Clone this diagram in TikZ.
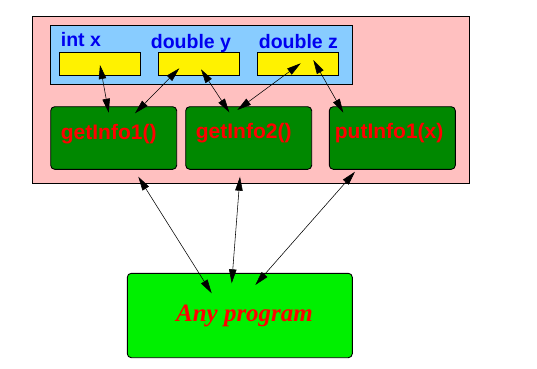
\documentclass[tikz,border=0pt]{standalone}
\usepackage{fontspec}
\setmainfont{Liberation Sans}
\newfontfamily\anyfont{Liberation Serif}
\usetikzlibrary{arrows.meta}
\definecolor{pinkbg}{RGB}{255,192,192}
\definecolor{bluebg}{RGB}{136,204,255}
\definecolor{darkgr}{RGB}{0,136,0}
\definecolor{brightgr}{RGB}{0,240,0}
\definecolor{labblue}{RGB}{0,0,240}
\begin{document}
\begin{tikzpicture}[x=1pt,y=-1pt,
  box/.style={draw=black,line width=0.9pt,anchor=north west,inner sep=0pt,outer sep=0pt},
  varbox/.style={box,fill=yellow,minimum width=81pt,minimum height=23pt},
  funcbox/.style={box,fill=darkgr,rounded corners=4pt,minimum width=126pt,minimum height=62.6pt},
  varlab/.style={anchor=base west,inner sep=0pt,text=labblue,font=\fontsize{19.5}{19.5}\selectfont\bfseries},
  funclab/.style={anchor=base west,inner sep=0pt,text=red,font=\fontsize{21}{21}\selectfont\bfseries},
  link/.style={line width=0.55pt,{Triangle[length=14pt,width=7.5pt]}-{Triangle[length=14pt,width=7.5pt]}}
]
\useasboundingbox (0,0) rectangle (537,368);
% outer class box
\node[box,fill=pinkbg,minimum width=436.3pt,minimum height=167pt] (cls) at (32.7,16) {};
% data box
\node[box,fill=bluebg,minimum width=302.7pt,minimum height=59pt] (data) at (50,25) {};
\node[varlab] (lx) at (60.7,46.7) {int x};
\node[varlab] (ly) at (150.7,48.5) {double y};
\node[varlab] (lz) at (258.7,48.5) {double z};
\node[varbox] (vx) at (59.3,52.3) {};
\node[varbox] (vy) at (158.3,52.3) {};
\node[varbox] (vz) at (257.3,52.3) {};
% functions
\node[funcbox] (f1) at (50.7,106.7) {};
\node[funcbox] (f2) at (185.7,106.7) {};
\node[funcbox] (f3) at (329.3,106.7) {};
\node[funclab] (t1) at (60.7,139.3) {getInfo1()};
\node[funclab] (t2) at (195.7,138.8) {getInfo2()};
\node[funclab] (t3) at (334.7,138.8) {putInfo1(x)};
% program
\node[box,fill=brightgr,rounded corners=4pt,minimum width=225pt,minimum height=84.4pt] (prog) at (127.3,273.3) {};
\node[text=red,inner sep=0pt,font=\anyfont\fontsize{25}{25}\selectfont\bfseries\itshape] (ptext) at (244.5,316) {Any program};
% endpoints
\coordinate (x1) at (100,65);     \coordinate (g1a) at (108.7,112.7);
\coordinate (y1) at (179.3,68.3); \coordinate (g1b) at (135,113.3);
\coordinate (y2) at (201,69.3);   \coordinate (g2a) at (229.3,112.3);
\coordinate (z1) at (300.7,63.3); \coordinate (g2b) at (237.3,110);
\coordinate (z2) at (313.3,60);   \coordinate (g3a) at (343.3,112.7);
\coordinate (c1) at (138.3,176.7); \coordinate (p1) at (211.7,293.3);
\coordinate (c2) at (240,176.7);   \coordinate (p2) at (231.7,283.3);
\coordinate (c3) at (355,171.7);   \coordinate (p3) at (255.3,285);
\draw[link] (x1) -- (g1a);
\draw[link] (y1) -- (g1b);
\draw[link] (y2) -- (g2a);
\draw[link] (z1) -- (g2b);
\draw[link] (z2) -- (g3a);
\draw[link] (c1) -- (p1);
\draw[link] (c2) -- (p2);
\draw[link] (c3) -- (p3);
\end{tikzpicture}
\end{document}
